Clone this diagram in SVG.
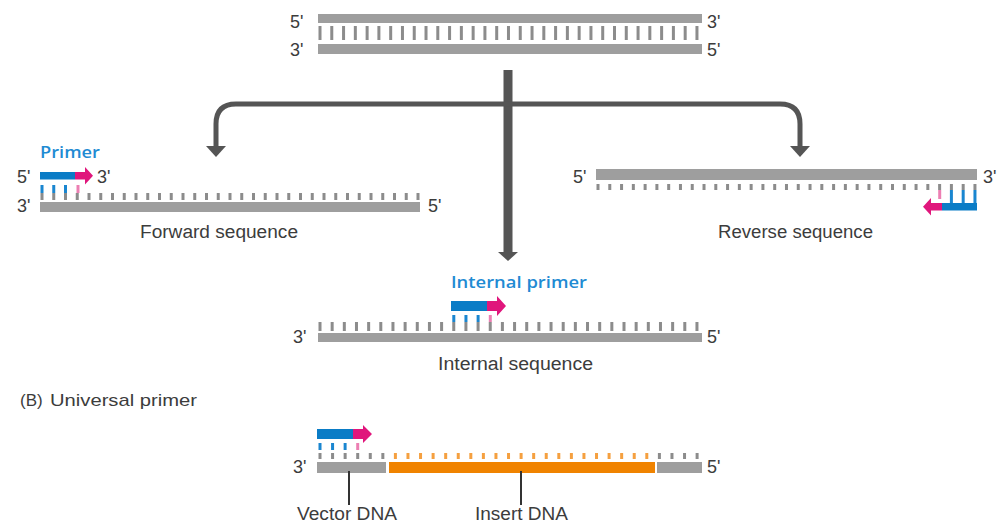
<svg xmlns="http://www.w3.org/2000/svg" width="1000" height="529" viewBox="0 0 1000 529">
<style>
.t{font-family:"Liberation Sans","DejaVu Sans",sans-serif;font-size:18px;fill:#3c3c3c}
.p{font-size:17px}
.b{font-family:"Open Sans","Liberation Sans",sans-serif;font-weight:600;font-size:17px;fill:#1f8bd3}
.strand{fill:#9e9e9e}
.ins{fill:#f08300}
.tk{stroke:#8c8c8c;fill:none}
.tko{stroke:#f5a040;fill:none}
.pb{fill:#0a7cc6}
.pp{fill:#e0167c}
.tb{stroke:#1a86d0;fill:none}
.tp{stroke:#ec7fb3;fill:none}
.conn{stroke:#555;fill:none}
.lead{stroke:#333;stroke-width:2;fill:none}
</style>

<g id="dsDNA">
<rect class="strand" x="318" y="14" width="384" height="9"/>
<rect class="strand" x="318" y="44" width="384" height="10"/>
<line class="tk" x1="318.5" y1="33" x2="700" y2="33" stroke-width="14" stroke-dasharray="3 8.78"/>
<text class="t" x="290" y="28">5'</text>
<text class="t" x="707" y="28">3'</text>
<text class="t" x="290" y="56">3'</text>
<text class="t" x="707" y="56">5'</text>
</g>

<g id="connectors">
<path class="conn" stroke-width="9" d="M508 70V253"/>
<polygon fill="#555" points="498,252 518,252 508,261"/>
<path class="conn" stroke-width="5" d="M216 148V124Q216 104 236 104H780Q800 104 800 124V148"/>
<polygon fill="#555" points="206,146 226,146 216,157"/>
<polygon fill="#555" points="790,146 810,146 800,157"/>
</g>

<g id="forward">
<text class="b" x="40" y="158" textLength="60" lengthAdjust="spacingAndGlyphs">Primer</text>
<text class="t" x="17" y="183">5'</text>
<rect class="pb" x="40" y="172" width="35" height="7.5"/>
<polygon class="pp" points="75,172 85,172 85,167 93,175.75 85,184.5 85,179.5 75,179.5"/>
<text class="t" x="97" y="183">3'</text>
<line class="tb" x1="40.5" y1="189" x2="67" y2="189" stroke-width="8" stroke-dasharray="3 8.75"/>
<line class="tp" x1="76.5" y1="189" x2="79.5" y2="189" stroke-width="8"/>
<line class="tk" x1="40.5" y1="196.5" x2="420" y2="196.5" stroke-width="7" stroke-dasharray="3 8.75"/>
<rect class="strand" x="40" y="202" width="380" height="10"/>
<text class="t" x="17" y="212">3'</text>
<text class="t" x="428" y="212">5'</text>
<text class="t" x="140" y="238" textLength="158" lengthAdjust="spacingAndGlyphs">Forward sequence</text>
</g>

<g id="reverse">
<text class="t" x="573" y="183">5'</text>
<rect class="strand" x="596" y="169" width="381" height="11"/>
<text class="t" x="983" y="183">3'</text>
<line class="tk" x1="596.5" y1="187" x2="977" y2="187" stroke-width="6" stroke-dasharray="3 8.78"/>
<line class="tb" x1="949.9" y1="196.5" x2="976.5" y2="196.5" stroke-width="13" stroke-dasharray="3 8.78"/>
<line class="tp" x1="938.2" y1="194.5" x2="941.2" y2="194.5" stroke-width="9"/>
<rect class="pb" x="942" y="203" width="35" height="7.5"/>
<polygon class="pp" points="942,203 931,203 931,198 923,206.75 931,215.5 931,210.5 942,210.5"/>
<text class="t" x="718" y="238" textLength="155" lengthAdjust="spacingAndGlyphs">Reverse sequence</text>
</g>

<g id="internal">
<text class="b" x="451" y="288" textLength="136" lengthAdjust="spacingAndGlyphs">Internal primer</text>
<rect class="pb" x="451" y="301" width="36" height="10"/>
<polygon class="pp" points="487,301 497,301 497,296 506,306 497,316 497,311 487,311"/>
<line class="tb" x1="452.3" y1="318.5" x2="479.6" y2="318.5" stroke-width="7" stroke-dasharray="3 9.16"/>
<line class="tp" x1="488.8" y1="318.5" x2="491.8" y2="318.5" stroke-width="7"/>
<line class="tk" x1="318.5" y1="326.5" x2="700" y2="326.5" stroke-width="9" stroke-dasharray="3 9.16"/>
<rect class="strand" x="318" y="333" width="384" height="9"/>
<text class="t" x="293" y="343">3'</text>
<text class="t" x="707" y="343">5'</text>
<text class="t" x="438" y="370" textLength="155" lengthAdjust="spacingAndGlyphs">Internal sequence</text>
</g>

<g id="universal">
<text class="t p" x="20" y="406">(B)</text>
<text class="t p" x="50" y="406" textLength="147" lengthAdjust="spacingAndGlyphs">Universal primer</text>
<rect class="pb" x="317" y="429" width="36" height="10"/>
<polygon class="pp" points="353,429 363,429 363,425 372,434 363,443 363,439 353,439"/>
<line class="tb" x1="318.5" y1="446.5" x2="346.6" y2="446.5" stroke-width="7" stroke-dasharray="3 9.57"/>
<line class="tp" x1="356.2" y1="446.5" x2="359.2" y2="446.5" stroke-width="7"/>
<line class="tk" x1="318.5" y1="456" x2="384.4" y2="456" stroke-width="6" stroke-dasharray="3 9.57"/>
<line class="tko" x1="393.9" y1="456" x2="648.3" y2="456" stroke-width="6" stroke-dasharray="3 9.57"/>
<line class="tk" x1="657.9" y1="456" x2="698.6" y2="456" stroke-width="6" stroke-dasharray="3 9.57"/>
<rect class="strand" x="317" y="462" width="69" height="11"/>
<rect class="ins" x="389" y="462" width="266" height="11"/>
<rect class="strand" x="657" y="462" width="45" height="11"/>
<text class="t" x="293" y="473">3'</text>
<text class="t" x="707" y="473">5'</text>
</g>

<g id="vector-dna">
<line class="lead" x1="349" y1="471" x2="349" y2="505"/>
<text class="t" x="297" y="520" textLength="100" lengthAdjust="spacingAndGlyphs">Vector DNA</text>
</g>
<g id="insert-dna">
<line class="lead" x1="521" y1="471" x2="521" y2="505"/>
<text class="t" x="475" y="520" textLength="93" lengthAdjust="spacingAndGlyphs">Insert DNA</text>
</g>
</svg>
